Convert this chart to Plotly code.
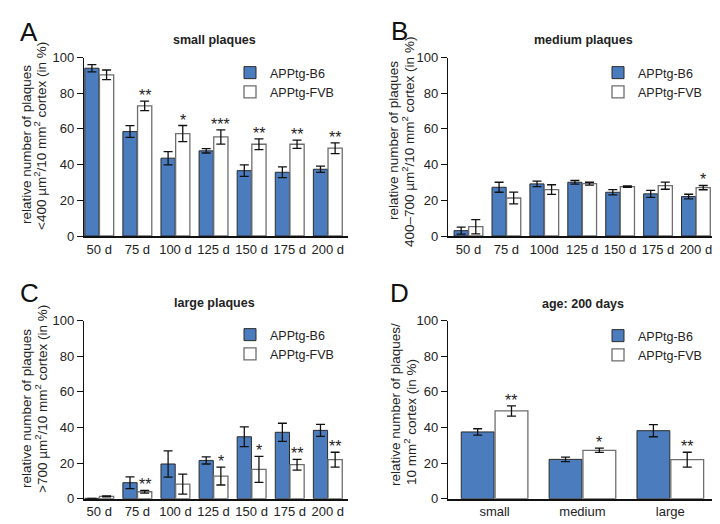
import plotly.graph_objects as go

# ---------------- data ----------------
days = ["50 d", "75 d", "100 d", "125 d", "150 d", "175 d", "200 d"]
days_b = ["50 d", "75 d", "100d", "125 d", "150 d", "175 d", "200 d"]
sizes = ["small", "medium", "large"]

small_b6 = [94.0, 58.5, 43.6, 47.7, 36.6, 35.7, 37.4]
small_b6_err = [2.0, 3.3, 3.7, 1.2, 3.2, 3.0, 1.8]
small_fvb = [90.3, 72.9, 57.4, 55.5, 51.4, 51.4, 49.2]
small_fvb_err = [2.7, 2.7, 4.5, 4.0, 3.0, 2.3, 3.0]
small_sig = ["", "**", "*", "***", "**", "**", "**"]

medium_b6 = [3.0, 27.3, 29.2, 30.1, 24.5, 23.6, 22.1]
medium_b6_err = [2.0, 2.8, 1.5, 1.0, 1.5, 2.0, 1.3]
medium_fvb = [5.2, 21.3, 26.0, 29.3, 27.7, 28.2, 27.1]
medium_fvb_err = [4.0, 3.3, 2.7, 0.8, 0.4, 2.0, 1.2]
medium_sig = ["", "", "", "", "", "", "*"]

large_b6 = [0.2, 9.0, 19.5, 21.5, 34.8, 37.3, 38.4]
large_b6_err = [0.0, 3.3, 7.4, 2.0, 5.6, 5.1, 3.4]
large_fvb = [1.3, 3.9, 8.2, 12.7, 16.5, 19.1, 21.9]
large_fvb_err = [0.3, 0.8, 5.6, 5.0, 7.3, 3.0, 4.2]
large_sig = ["", "**", "", "*", "*", "**", "**"]

d200_b6 = [37.5, 22.1, 38.2]
d200_b6_err = [1.8, 1.3, 3.4]
d200_fvb = [49.3, 27.2, 21.9]
d200_fvb_err = [2.9, 1.2, 4.2]
d200_sig = ["**", "*", "**"]

yticks = [0, 20, 40, 60, 80, 100]

# ---------------- styling ----------------
BLUE = "#4a7cbe"
FONT = "Liberation Sans, Arial, sans-serif"
BARGAP = 0.23
W, H = 720, 524

panels = [
    dict(cats=days, b6=small_b6, b6e=small_b6_err, fvb=small_fvb, fvbe=small_fvb_err, sig=small_sig,
         title="small plaques", letter="A", title_xy=(207, 32), letter_xy=(21, 24), legend_xy=(222, 50),
         ytitle=[("relative number of plaques", 18, 137),
                 ("<400 µm<sup>2</sup>/10 mm<sup>2</sup> cortex (in %)", 32, 128)],
         xd=[76 / W, 340 / W], yd=[1 - 228 / H, 1 - 49.5 / H], xr=[-0.40, 6.53]),
    dict(cats=days_b, b6=medium_b6, b6e=medium_b6_err, fvb=medium_fvb, fvbe=medium_fvb_err, sig=medium_sig,
         title="medium plaques", letter="B", title_xy=(575, 32), letter_xy=(392, 23), legend_xy=(590, 50),
         ytitle=[("relative number of plaques", 386, 133),
                 ("400–700 µm<sup>2</sup>/10 mm<sup>2</sup> cortex (in %)", 400, 134)],
         xd=[440 / W, 708 / W], yd=[1 - 228 / H, 1 - 49.5 / H], xr=[-0.54, 6.53]),
    dict(cats=days, b6=large_b6, b6e=large_b6_err, fvb=large_fvb, fvbe=large_fvb_err, sig=large_sig,
         title="large plaques", letter="C", title_xy=(207, 295), letter_xy=(21, 285), legend_xy=(222, 312),
         ytitle=[("relative number of plaques", 18, 401),
                 (">700 µm<sup>2</sup>/10 mm<sup>2</sup> cortex (in %)", 33, 391)],
         xd=[76 / W, 340 / W], yd=[1 - 490.7 / H, 1 - 312.7 / H], xr=[-0.40, 6.53]),
    dict(cats=sizes, b6=d200_b6, b6e=d200_b6_err, fvb=d200_fvb, fvbe=d200_fvb_err, sig=d200_sig,
         title="age: 200 days", letter="D", title_xy=(575, 296), letter_xy=(392, 285), legend_xy=(590, 313),
         ytitle=[("relative number of plaques/", 387, 397),
                 ("10 mm<sup>2</sup> cortex (in %)", 402, 414)],
         xd=[440 / W, 708 / W], yd=[1 - 490.7 / H, 1 - 312.7 / H], xr=[-0.53, 2.52]),
]

fig = go.Figure()
annotations = []
layout_axes = {}

for i, p in enumerate(panels):
    n = i + 1
    xa = "x" if n == 1 else f"x{n}"
    ya = "y" if n == 1 else f"y{n}"
    leg = "legend" if n == 1 else f"legend{n}"
    fig.add_trace(go.Bar(
        x=p["cats"], y=p["b6"], name="APPtg-B6", xaxis=xa, yaxis=ya, legend=leg,
        marker=dict(color=BLUE, line=dict(color="#2b2b2b", width=1)),
        error_y=dict(type="data", array=p["b6e"], color="#111111", thickness=1.3, width=4.5),
        offsetgroup="b6",
    ))
    fig.add_trace(go.Bar(
        x=p["cats"], y=p["fvb"], name="APPtg-FVB", xaxis=xa, yaxis=ya, legend=leg,
        marker=dict(color="white", line=dict(color="#6e6e6e", width=1.3)),
        error_y=dict(type="data", array=p["fvbe"], color="#111111", thickness=1.3, width=4.5),
        offsetgroup="fvb",
    ))
    xkey = "xaxis" if n == 1 else f"xaxis{n}"
    ykey = "yaxis" if n == 1 else f"yaxis{n}"
    layout_axes[xkey] = dict(
        domain=p["xd"], anchor=ya, type="category", range=p["xr"], automargin=False,
        showline=True, linecolor="#111111", linewidth=2, ticks="", showgrid=False, zeroline=False,
        tickfont=dict(family=FONT, size=13, color="#222222"),
    )
    layout_axes[ykey] = dict(
        domain=p["yd"], anchor=xa, range=[0, 100], tickvals=yticks, automargin=False,
        showline=True, linecolor="#111111", linewidth=1.3, ticks="outside", ticklen=6,
        tickwidth=1.3, tickcolor="#111111", showgrid=False, zeroline=False,
        tickfont=dict(family=FONT, size=13, color="#222222"),
    )
    lx, ly = p["legend_xy"]
    fig.update_layout(**{leg: dict(
        x=lx / W, y=1 - ly / H, xanchor="left", yanchor="top",
        bgcolor="rgba(0,0,0,0)", font=dict(family=FONT, size=12.5, color="#222222"),
        tracegroupgap=0, itemwidth=30,
    )})
    # y-axis title, one annotation per line
    for txt, cx, cy in p["ytitle"]:
        annotations.append(dict(
            text=txt, xref="paper", yref="paper", x=cx / W, y=1 - cy / H,
            xanchor="center", yanchor="middle", textangle=-90, showarrow=False,
            font=dict(family=FONT, size=13.5, color="#222222"),
        ))
    tx, ty = p["title_xy"]
    annotations.append(dict(
        text="<b>" + p["title"] + "</b>", xref="paper", yref="paper",
        x=tx / W, y=1 - ty / H, xanchor="center", yanchor="middle",
        showarrow=False, font=dict(family=FONT, size=12.5, color="#222222"),
    ))
    lx2, ly2 = p["letter_xy"]
    annotations.append(dict(
        text=p["letter"], xref="paper", yref="paper",
        x=lx2 / W, y=1 - ly2 / H, xanchor="center", yanchor="middle",
        showarrow=False, font=dict(family=FONT, size=26, color="#111111"),
    ))
    for k, s in enumerate(p["sig"]):
        if s:
            annotations.append(dict(
                text=s, xref=xa, yref=ya, x=k + (1 - BARGAP) / 4, y=p["fvb"][k] + p["fvbe"][k],
                xanchor="center", yanchor="bottom", yshift=-5, showarrow=False,
                font=dict(family=FONT, size=16, color="#222222"),
            ))

fig.update_layout(
    template="none",
    width=W, height=H, margin=dict(l=0, r=0, t=0, b=0, autoexpand=False),
    paper_bgcolor="white", plot_bgcolor="white",
    font=dict(family=FONT, color="#222222"),
    barmode="group", bargap=BARGAP, bargroupgap=0.03,
    annotations=annotations, showlegend=True,
    **layout_axes,
)

fig.write_html("out.html")
